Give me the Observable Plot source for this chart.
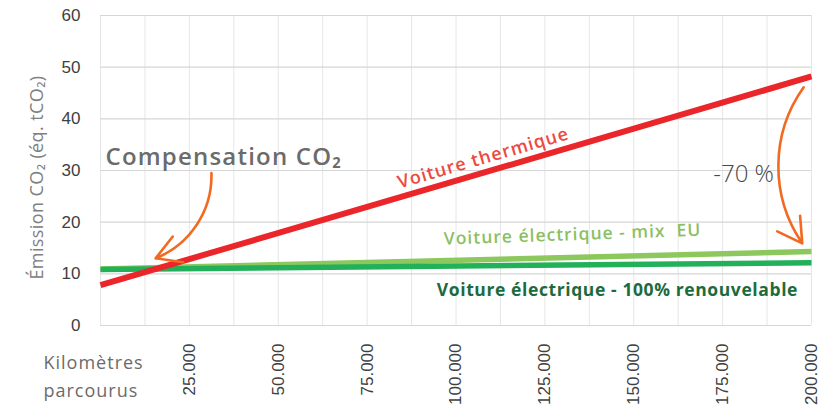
<!DOCTYPE html>
<html><head><meta charset="utf-8">
<script src="https://cdn.jsdelivr.net/npm/d3@7"></script>
<script src="https://cdn.jsdelivr.net/npm/@observablehq/plot@0.6"></script>
<style>body{margin:0;background:#fff} svg{display:block}</style>
</head><body><div id="chart"></div>
<script>
// Kilomètres parcourus (endpoints of each straight line)
const km = [0, 200000];
// Émission CO2 (éq. tCO2)
const thermique = [7.8, 48.2];
const mixEU = [10.95, 14.3];
const renouvelable = [10.85, 12.15];

const xTicks = [25000, 50000, 75000, 100000, 125000, 150000, 175000, 200000];
const xTickLabels = ["25.000", "50.000", "75.000", "100.000", "125.000", "150.000", "175.000", "200.000"];
const xGrid = [0, 12500, 25000, 37500, 50000, 62500, 75000, 87500, 100000, 112500, 125000, 137500, 150000, 162500, 175000, 187500, 200000];
const yTicks = [0, 10, 20, 30, 40, 50, 60];

const seriesNames = ["Voiture thermique", "Voiture électrique - mix  EU", "Voiture électrique - 100% renouvelable"];

const rows = (vals) => km.map((k, i) => ({km: k, v: vals[i]}));

// annotation arrows (data coordinates)
const arrows = [
  {x1: 31200, y1: 29.5, x2: 15500, y2: 13.0, bend: 35},
  {x1: 197800, y1: 46.1, x2: 197400, y2: 15.9, bend: -35}
];

const font = "Open Sans, Noto Sans, sans-serif";

const plot = Plot.plot({
  width: 835,
  height: 418,
  marginLeft: 100,
  marginRight: 24,
  marginTop: 15,
  marginBottom: 93,
  style: {fontFamily: "Liberation Sans, Arial, sans-serif", background: "#fff"},
  x: {domain: [0, 200000]},
  y: {domain: [0, 60]},
  marks: [
    Plot.gridX(xGrid, {stroke: "#e6e6e6", strokeOpacity: 1, strokeWidth: 1}),
    Plot.gridY(yTicks, {stroke: "#d6d6d6", strokeOpacity: 1, strokeWidth: 1.2}),
    Plot.axisY(yTicks, {tickSize: 0, tickPadding: 20, fontSize: 17, fill: "#404040", label: null}),
    Plot.axisX(xTicks, {tickSize: 0, tickPadding: 18, tickRotate: -90, fontSize: 17, fill: "#404040", label: null,
      tickFormat: (d) => xTickLabels[xTicks.indexOf(d)]}),
    Plot.line(rows(mixEU), {x: "km", y: "v", stroke: "#8cc85e", strokeWidth: 5.5, strokeLinecap: "butt"}),
    Plot.line(rows(renouvelable), {x: "km", y: "v", stroke: "#22b05a", strokeWidth: 5.5, strokeLinecap: "butt"}),
    Plot.line(rows(thermique), {x: "km", y: "v", stroke: "#ea262b", strokeWidth: 6, strokeLinecap: "butt"}),
    Plot.arrow([arrows[0]], {x1: "x1", y1: "y1", x2: "x2", y2: "y2", bend: arrows[0].bend, stroke: "#f26a21", strokeWidth: 2.6, headLength: 16}),
    Plot.arrow([arrows[1]], {x1: "x1", y1: "y1", x2: "x2", y2: "y2", bend: arrows[1].bend, stroke: "#f26a21", strokeWidth: 2.6, headLength: 16}),
    Plot.text(["Compensation CO₂"], {x: 1400, y: 32.6, textAnchor: "start", fontSize: 24, fontWeight: 600, fill: "#6b6b6b", fontFamily: font}),
    Plot.text([seriesNames[0]], {x: 107700, y: 32.4, rotate: -16.3, fontSize: 18, fontWeight: 600, fill: "#ec4a40", fontFamily: font}),
    Plot.text([seriesNames[1]], {x: 132800, y: 17.6, rotate: -2, fontSize: 17.5, fontWeight: 600, fill: "#8cbf63", fontFamily: font}),
    Plot.text([seriesNames[2]], {x: 145400, y: 6.8, fontSize: 17.5, fontWeight: 700, fill: "#1c6b3d", fontFamily: font}),
    Plot.text(["-70 %"], {x: 180900, y: 29.3, fontSize: 24, fontWeight: 300, fill: "#4a4a4a", fontFamily: font}),
    Plot.text(["Émission CO₂ (éq. tCO₂)"], {frameAnchor: "left", textAnchor: "middle", dx: -63, dy: 7, rotate: -90, fontSize: 18, fill: "#808080", fontFamily: font}),
    Plot.text(["Kilomètres\nparcourus"], {frameAnchor: "bottom-left", dx: -57, dy: 71, textAnchor: "start", lineHeight: 1.55, fontSize: 18, fill: "#6b6b6b", fontFamily: font})
  ]
});
// widen the annotation lettering a little (the original uses a wide geometric typeface)
const spacing = {"Compensation CO₂": 1.2, "Voiture thermique": 1, "Voiture électrique - mix  EU": 1, "Voiture électrique - 100% renouvelable": 0.6, "Kilomètres": 1, "parcourus": 1, "Émission CO₂ (éq. tCO₂)": 0.4};
d3.select(plot).selectAll("text, tspan").each(function() {
  const s = spacing[this.textContent];
  if (s) d3.select(this).attr("letter-spacing", s);
});
document.getElementById("chart").append(plot);
</script>
</body></html>
